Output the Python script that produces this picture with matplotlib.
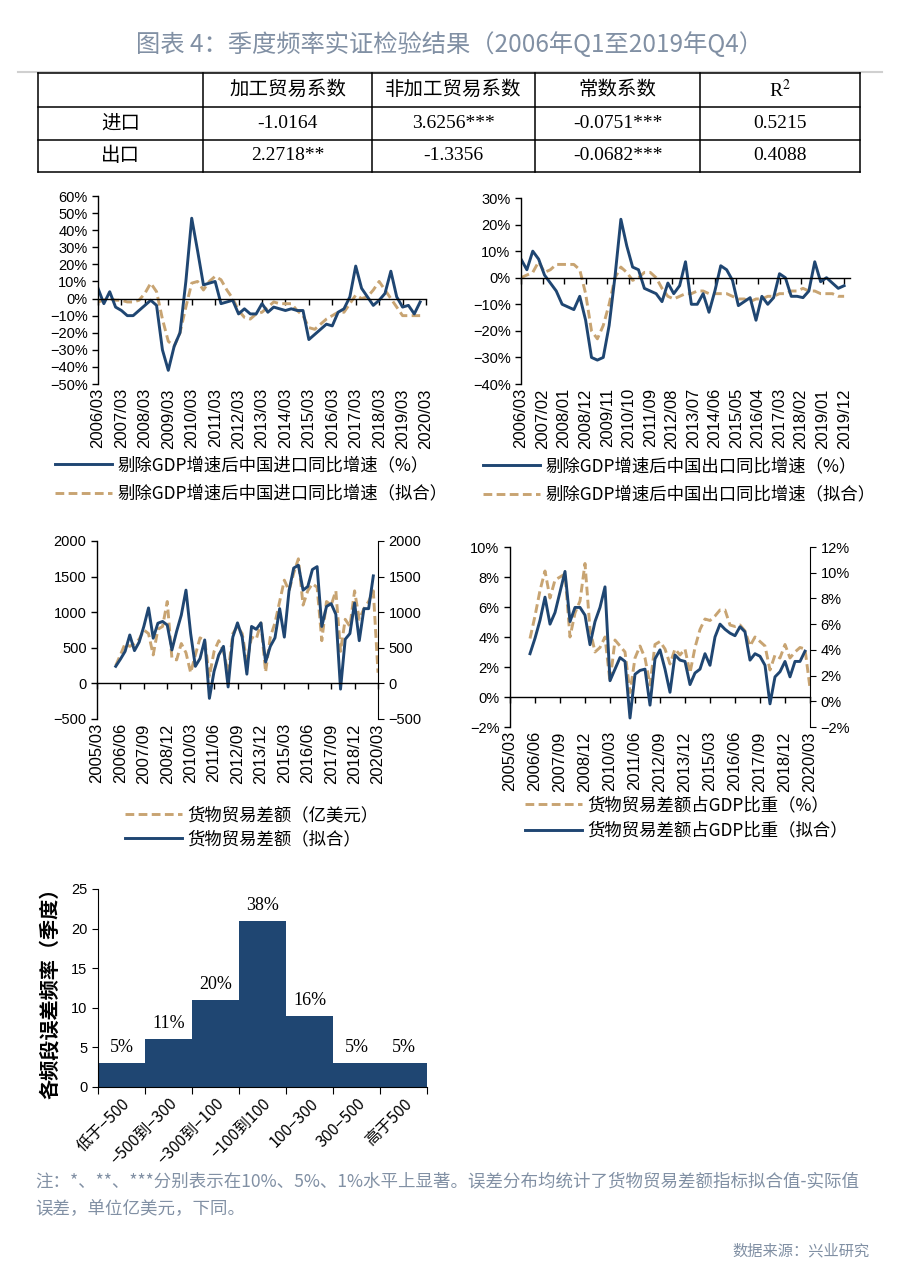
import numpy as np
import matplotlib.pyplot as plt
from matplotlib.ticker import PercentFormatter

plt.rcParams['font.family'] = ['Liberation Sans', 'Noto Sans CJK SC']
plt.rcParams['axes.unicode_minus'] = True
plt.rcParams['mathtext.fontset'] = 'stix'

W, H = 900, 1269
BLUE = '#1f4672'
TAN = '#c8a472'
GRAY = '#8190a4'
SERIF = ['Liberation Serif', 'Noto Sans CJK SC']
CJK = ['Noto Sans CJK SC', 'DejaVu Sans']

# ---- table ----
table_header = ['', '加工贸易系数', '非加工贸易系数', '常数系数', 'R$^2$']
table_rows = [
    ['进口', '-1.0164', '3.6256***', '-0.0751***', '0.5215'],
    ['出口', '2.2718**', '-1.3356', '-0.0682***', '0.4088'],
]

# ---- chart 1: imports, quarterly 2006Q1-2019Q4 (%) ----
imp_actual = [6, -3, 4, -5, -7, -10, -10, -7, -4, -1, -4, -30, -42, -28, -20, 10,
              47, 28, 8, 9, 10, -3, -2, -1, -9, -6, -9, -9, -3, -8, -5, -6,
              -7, -6, -7, -7, -24, -21, -18, -15, -16, -8, -6, 1, 19, 6, 1, -4,
              -1, 3, 16, 1, -5, -4, -9, -2]
imp_fit = [-2, -1, 0, -1, -1, -2, -2, -1, 3, 9, 4, -12, -25, -28, -20, -5,
           9, 10, 5, 10, 13, 11, 5, 0, -7, -11, -12, -9, -8, -5, -2, -3,
           -3, -3, -7, -10, -17, -18, -15, -12, -10, -8, -8, -3, 2, 0, 1, 5,
           10, 5, 0, -5, -10, -10, -10, -10]
imp_ticklabels = ['2006/03', '2007/03', '2008/03', '2009/03', '2010/03', '2011/03',
                  '2012/03', '2013/03', '2014/03', '2015/03', '2016/03', '2017/03',
                  '2018/03', '2019/03', '2020/03']

# ---- chart 2: exports (%) ----
exp_actual = [7, 3, 10, 7, 1, -2, -5, -10, -11, -12, -7, -16, -30, -31, -30, -18,
              0.5, 22, 12, 4, 3, -4, -5, -6, -9, -2, -6, -3, 6, -10, -10, -6,
              -13, -5, 4.5, 3, -1, -10.5, -9, -7.5, -16, -7, -10, -7.5, 1.5, 0, -7, -7,
              -7.5, -5, 6, -1.5, 0, -2, -4, -3]
exp_fit = [0, 1, 2, 6, 2, 3, 5, 5, 5, 5, 3, -6, -20, -23, -18, -10,
           0, 4, 2, -1, 0, 2, 2, 0, -4, -7, -8, -7, -6, -6, -5, -5,
           -6, -6, -6, -6, -7, -8, -8, -9, -8, -8, -7, -7, -6, -6, -5, -5,
           -4, -5, -5, -6, -6, -6, -7, -7]
exp_ticklabels = ['2006/03', '2007/02', '2008/01', '2008/12', '2009/11', '2010/10',
                  '2011/09', '2012/08', '2013/07', '2014/06', '2015/05', '2016/04',
                  '2017/03', '2018/02', '2019/01', '2019/12']

# ---- chart 3: goods trade balance (100m USD), 2006Q1-2020Q1 ----
bal_actual = [250, 400, 560, 520, 560, 620, 750, 700, 400, 760,
              800, 1150, 350, 330, 560, 430, 150, 400, 640, 600,
              100, 450, 600, 450, 150, 700, 800, 700, 300, 650,
              620, 850, 160, 650, 850, 1150, 1450, 1300, 1550, 1750,
              1100, 1300, 1400, 1350, 600, 1150, 1100, 1300, 450, 900,
              800, 1300, 900, 1050, 1150, 1300, 150]
bal_fit = [240, 340, 450, 680, 460, 580, 800, 1060, 635, 845,
           870, 820, 470, 730, 960, 1310, 700, 240, 350, 610,
           -210, 170, 400, 520, -50, 650, 850, 650, 130, 800,
           760, 850, 300, 520, 640, 1050, 650, 1300, 1620, 1660,
           1310, 1360, 1600, 1640, 800, 1080, 1120, 970, -80, 620,
           700, 1130, 600, 1050, 1050, 1510]
bal_ticklabels = ['2005/03', '2006/06', '2007/09', '2008/12', '2010/03', '2011/06',
                  '2012/09', '2013/12', '2015/03', '2016/06', '2017/09', '2018/12',
                  '2020/03']

# ---- chart 4: trade balance share of GDP (%) ----
gdp_actual = [3.9, 5.4, 7.1, 8.4, 6.6, 7.8, 8.0, 8.2, 4.0, 5.6,
              6.4, 8.9, 4.5, 3.0, 3.3, 4.0, 1.0, 3.8, 3.4, 3.0,
              0.3, 2.6, 3.4, 2.6, 0.8, 3.5, 3.7, 3.2, 2.2, 3.2,
              2.8, 3.2, 1.6, 3.3, 4.5, 5.2, 5.1, 5.4, 5.8, 5.8,
              4.8, 4.7, 4.8, 4.4, 3.4, 4.0, 3.7, 3.4, 1.8, 2.8,
              2.6, 3.5, 2.6, 3.0, 3.3, 3.2, 0.6]
gdp_fit = [3.7, 4.9, 6.3, 8.1, 6.0, 6.9, 8.5, 10.1, 6.2, 7.3,
           7.3, 6.7, 4.4, 6.2, 7.3, 8.9, 1.6, 2.5, 3.4, 3.1,
           -1.3, 2.1, 2.4, 2.5, -0.3, 3.3, 4.0, 2.5, 0.7, 3.6,
           3.2, 3.1, 1.3, 2.2, 2.5, 3.7, 2.8, 5.0, 6.0, 5.6,
           5.3, 5.1, 5.8, 5.4, 3.2, 3.7, 3.5, 2.8, -0.2, 1.9,
           2.3, 3.1, 1.9, 3.1, 3.1, 3.9]

# ---- histogram of fit errors ----
err_bins = ['低于−500', '−500到−300', '−300到−100', '−100到100', '100−300', '300−500', '高于500']
err_counts = [3, 6, 11, 21, 9, 3, 3]
err_pct = ['5%', '11%', '20%', '38%', '16%', '5%', '5%']


def rect(l, t, r, b):
    return [l / W, 1 - b / H, (r - l) / W, (b - t) / H]


def fig_xy(x, y):
    return (x / W, 1 - y / H)


def style_line_ax(ax, xmax, ylim, ticks, labels):
    ax.set_xlim(0, xmax)
    ax.set_ylim(*ylim)
    for s in ['top', 'right']:
        ax.spines[s].set_visible(False)
    ax.spines['bottom'].set_position(('data', 0))
    ax.set_xticks(ticks)
    ax.tick_params(axis='x', labelbottom=False, direction='out', length=4, width=1)
    ax.tick_params(axis='y', direction='out', length=4, width=1, labelsize=10.5)
    sec = ax.secondary_xaxis('bottom')
    sec.set_xticks(ticks, labels, rotation=90, fontsize=12)
    sec.tick_params(length=0, pad=3)
    sec.spines['bottom'].set_visible(False)
    for sp in ax.spines.values():
        sp.set_linewidth(1)


def add_legend(handles, labels, x, y, spacing=0.45):
    fig.legend(handles, labels, loc='upper left', bbox_to_anchor=fig_xy(x, y),
               frameon=False, prop={'family': CJK, 'size': 12.5}, handlelength=3.3,
               handletextpad=0.3, labelspacing=spacing, borderpad=0, borderaxespad=0)


fig = plt.figure(figsize=(9, 12.69), dpi=100)

# overlay for title, table and notes
ov = fig.add_axes([0, 0, 1, 1])
ov.set_xlim(0, W)
ov.set_ylim(H, 0)
ov.axis('off')

ov.text(450, 45, '图表 4：季度频率实证检验结果（2006年Q1至2019年Q4）', ha='center', va='center',
        fontsize=17.5, color=GRAY, family=CJK)
ov.plot([18, 882], [72, 72], color='#d0d0d0', lw=1.5)

col_x = [38, 203, 372, 535, 700, 860]
row_y = [73, 107, 140, 172]
for yy in row_y:
    ov.plot([col_x[0], col_x[-1]], [yy, yy], color='black', lw=1.1)
for xx in col_x:
    ov.plot([xx, xx], [row_y[0], row_y[-1]], color='black', lw=1.1)
for r, row in enumerate([table_header] + table_rows):
    cy = (row_y[r] + row_y[r + 1]) / 2
    for c, val in enumerate(row):
        cx = (col_x[c] + col_x[c + 1]) / 2
        ov.text(cx, cy, val, ha='center', va='center', fontsize=14, family=SERIF)

ov.text(35, 1181, '注：*、**、***分别表示在10%、5%、1%水平上显著。误差分布均统计了货物贸易差额指标拟合值-实际值',
        ha='left', va='center', fontsize=12.6, color=GRAY, family=CJK)
ov.text(35, 1209, '误差，单位亿美元，下同。', ha='left', va='center', fontsize=12.6, color=GRAY, family=CJK)
ov.text(870, 1251, '数据来源：兴业研究', ha='right', va='center', fontsize=11, color=GRAY, family=CJK)

q_months = np.arange(len(imp_actual)) * 3
LW = 2.1
DASH = (0, (3, 1.5))

# chart 1
ax1 = fig.add_axes(rect(98, 196, 426, 384))
f1, = ax1.plot(q_months, imp_fit, color=TAN, lw=LW, ls=DASH)
a1, = ax1.plot(q_months, imp_actual, color=BLUE, lw=LW)
style_line_ax(ax1, 168, (-50, 60), np.arange(0, 169, 12), imp_ticklabels)
ax1.set_yticks(np.arange(-50, 61, 10))
ax1.yaxis.set_major_formatter(PercentFormatter(decimals=0))
add_legend([a1, f1], ['剔除GDP增速后中国进口同比增速（%）', '剔除GDP增速后中国进口同比增速（拟合）'],
           55, 456, spacing=0.62)

# chart 2
ax2 = fig.add_axes(rect(521, 198, 850, 384))
f2, = ax2.plot(q_months, exp_fit, color=TAN, lw=LW, ls=DASH)
a2, = ax2.plot(q_months, exp_actual, color=BLUE, lw=LW)
style_line_ax(ax2, 168, (-40, 30), np.arange(0, 166, 11), exp_ticklabels)
ax2.set_yticks(np.arange(-40, 31, 10))
ax2.yaxis.set_major_formatter(PercentFormatter(decimals=0))
add_legend([a2, f2], ['剔除GDP增速后中国出口同比增速（%）', '剔除GDP增速后中国出口同比增速（拟合）'],
           483, 457, spacing=0.62)

# chart 3
m_act = 12 + np.arange(len(bal_actual)) * 3
m_fit = 12 + np.arange(len(bal_fit)) * 3
ax3 = fig.add_axes(rect(97, 541, 378, 719))
d3, = ax3.plot(m_act, bal_actual, color=TAN, lw=LW, ls=DASH)
b3, = ax3.plot(m_fit, bal_fit, color=BLUE, lw=LW)
style_line_ax(ax3, 180, (-500, 2000), np.arange(0, 181, 15), bal_ticklabels)
ax3.set_yticks(np.arange(-500, 2001, 500))
ax3r = ax3.twinx()
ax3r.set_ylim(-500, 2000)
ax3r.set_yticks(np.arange(-500, 2001, 500))
for s in ['top', 'left', 'bottom']:
    ax3r.spines[s].set_visible(False)
ax3r.tick_params(axis='y', direction='out', length=4, labelsize=10.5)
add_legend([d3, b3], ['货物贸易差额（亿美元）', '货物贸易差额（拟合）'], 125, 806, spacing=0.35)

# chart 4
ax4 = fig.add_axes(rect(510, 547, 810, 727))
d4, = ax4.plot(m_act, gdp_actual, color=TAN, lw=LW, ls=DASH)
style_line_ax(ax4, 180, (-2, 10), np.arange(0, 181, 15), bal_ticklabels)
ax4.set_yticks(np.arange(-2, 11, 2))
ax4.yaxis.set_major_formatter(PercentFormatter(decimals=0))
ax4r = ax4.twinx()
b4, = ax4r.plot(m_fit, gdp_fit, color=BLUE, lw=LW)
ax4r.set_ylim(-2, 12)
ax4r.set_yticks(np.arange(-2, 13, 2))
ax4r.yaxis.set_major_formatter(PercentFormatter(decimals=0))
for s in ['top', 'left', 'bottom']:
    ax4r.spines[s].set_visible(False)
ax4r.tick_params(axis='y', direction='out', length=4, labelsize=10.5)
add_legend([d4, b4], ['货物贸易差额占GDP比重（%）', '货物贸易差额占GDP比重（拟合）'], 525, 796, spacing=0.45)

# histogram
ax5 = fig.add_axes(rect(98, 889, 427, 1087))
centers = np.arange(len(err_counts)) + 0.5
ax5.bar(centers, err_counts, width=1.0, color=BLUE)
for c, v, p in zip(centers, err_counts, err_pct):
    ax5.text(c, v + 0.9, p, ha='center', va='bottom', fontsize=13, family=SERIF)
ax5.set_xlim(0, len(err_counts))
ax5.set_ylim(0, 25)
ax5.set_yticks(np.arange(0, 26, 5))
ax5.set_xticks(np.arange(0, len(err_counts) + 1))
ax5.set_xticklabels([])
ax5.set_xticks(centers, minor=True)
ax5.set_xticklabels(err_bins, minor=True, rotation=45, ha='right', rotation_mode='anchor',
                    fontsize=11.5, family=CJK)
ax5.tick_params(axis='x', which='major', direction='out', length=5)
ax5.tick_params(axis='x', which='minor', length=0, pad=6)
ax5.tick_params(axis='y', direction='out', length=4, labelsize=10.5)
for s in ['top', 'right']:
    ax5.spines[s].set_visible(False)
ax5.set_ylabel('各频段误差频率（季度）', fontsize=14.5, fontweight='bold', family=CJK, labelpad=8)

fig.savefig('out.png', dpi=100)
